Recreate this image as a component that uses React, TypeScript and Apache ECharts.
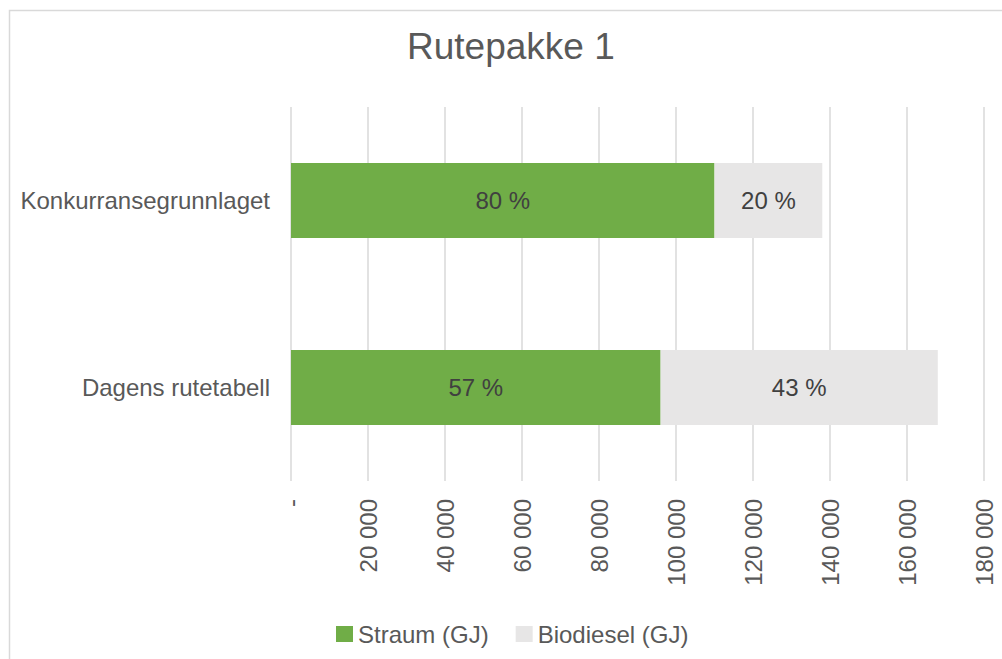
import React, { useEffect, useRef } from "react";
import * as echarts from "echarts";

const categories = ["Konkurransegrunnlaget", "Dagens rutetabell"];
const straum = [110000, 96000];
const biodiesel = [28000, 72000];
const seriesNames = ["Straum (GJ)", "Biodiesel (GJ)"];
const titleText = "Rutepakke 1";

const FONT = "'Liberation Sans', Arial, sans-serif";

function fmt(v: number): string {
  if (v === 0) return "-";
  return String(v).replace(/\B(?=(\d{3})+(?!\d))/g, " ");
}

export default function App() {
  const ref = useRef<HTMLDivElement>(null);
  useEffect(() => {
    if (!ref.current) return;
    const chart = echarts.init(ref.current, null, { renderer: "svg" });
    const totals = categories.map((_, i) => straum[i] + biodiesel[i]);
    const pct = (arr: number[]) => (p: any) =>
      Math.round((arr[p.dataIndex] / totals[p.dataIndex]) * 100) + " %";
    chart.setOption({
      animation: false,
      backgroundColor: "#ffffff",
      textStyle: { fontFamily: FONT },
      title: {
        text: titleText,
        left: 402,
        top: 23,
        textStyle: { fontSize: 37, fontWeight: "normal", color: "#595959", fontFamily: FONT },
      },
      graphic: [
        {
          type: "rect",
          shape: { x: 9.5, y: 10.5, width: 1100, height: 1000 },
          style: { fill: "none", stroke: "#d9d9d9", lineWidth: 1.5 },
          silent: true,
          z: -1,
        },
      ],
      legend: {
        left: 336,
        top: 622,
        padding: 0,
        itemWidth: 17,
        itemHeight: 16,
        itemGap: 27,
        icon: "rect",
        textStyle: { fontSize: 24, color: "#595959", fontFamily: FONT },
        data: seriesNames,
      },
      grid: { left: 291, right: 18, top: 107, bottom: 178, containLabel: false },
      xAxis: {
        type: "value",
        min: 0,
        max: 180000,
        interval: 20000,
        axisLine: { show: false },
        axisTick: { show: false },
        splitLine: { show: true, lineStyle: { color: "#d9d9d9", width: 1.5 } },
        axisLabel: {
          rotate: 90,
          margin: 18,
          fontSize: 24,
          color: "#595959",
          fontFamily: FONT,
          formatter: (v: number) => fmt(v),
        },
      },
      yAxis: {
        type: "category",
        inverse: true,
        data: categories,
        axisLine: { show: false },
        axisTick: { show: false },
        axisLabel: { margin: 21, fontSize: 24, color: "#595959", fontFamily: FONT },
      },
      series: [
        {
          name: seriesNames[0],
          type: "bar",
          stack: "total",
          data: straum,
          barWidth: 75,
          itemStyle: { color: "#70ad47" },
          label: {
            show: true,
            position: "inside",
            fontSize: 24,
            color: "#404040",
            fontFamily: FONT,
            formatter: pct(straum),
          },
        },
        {
          name: seriesNames[1],
          type: "bar",
          stack: "total",
          data: biodiesel,
          barWidth: 75,
          itemStyle: { color: "#e7e6e6" },
          label: {
            show: true,
            position: "inside",
            fontSize: 24,
            color: "#404040",
            fontFamily: FONT,
            formatter: pct(biodiesel),
          },
        },
      ],
    });
    return () => chart.dispose();
  }, []);
  return (
    <div
      ref={ref}
      style={{ position: "fixed", left: 0, top: 0, width: 1002, height: 659 }}
    />
  );
}
